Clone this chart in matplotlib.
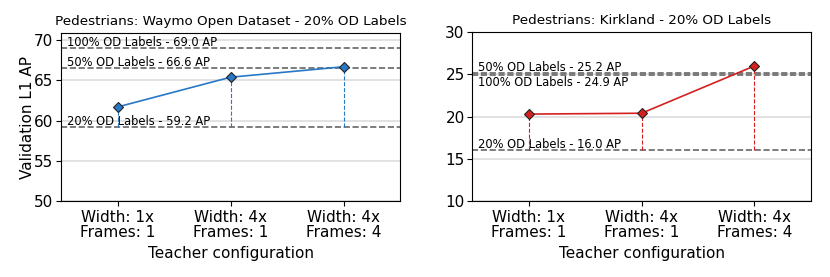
import matplotlib
matplotlib.use("Agg")
import matplotlib.pyplot as plt

# teacher configurations
configs = ["Width: 1x\nFrames: 1", "Width: 4x\nFrames: 1", "Width: 4x\nFrames: 4"]

# Waymo Open Dataset
waymo_ap = [61.7, 65.4, 66.7]
waymo_refs = [59.2, 66.6, 69.0]
waymo_ref_names = ["20% OD Labels", "50% OD Labels", "100% OD Labels"]

# Kirkland
kirk_ap = [20.3, 20.4, 26.0]
kirk_refs = [16.0, 25.2, 24.9]
kirk_ref_names = ["20% OD Labels", "50% OD Labels", "100% OD Labels"]


def draw_panel(ax, values, refs, names, color, title, ylim, yticks, below):
    x = list(range(len(values)))
    ax.grid(axis="y", color="#dddddd", linewidth=1.2, zorder=0)
    ax.set_axisbelow(True)
    for r, n, b in zip(refs, names, below):
        ax.axhline(r, color="#666666", linestyle="--", linewidth=1.2, zorder=2)
        if b:
            ax.text(-0.45, r - 0.1, n + " - %.1f AP" % r, fontsize=8.3,
                    va="top", ha="left", zorder=3)
        else:
            ax.text(-0.45, r + 0.25, n + " - %.1f AP" % r, fontsize=8.3,
                    va="baseline", ha="left", zorder=3)
    for xi, v in zip(x, values):
        ax.plot([xi, xi], [refs[0], v], color=color, linestyle="--",
                linewidth=0.8, zorder=3)
    ax.plot(x, values, color=color, linewidth=1.2, marker="D", markersize=5,
            markerfacecolor=color, markeredgecolor="#222222",
            markeredgewidth=0.8, zorder=4)
    ax.set_xlim(-0.5, 2.5)
    ax.set_ylim(*ylim)
    ax.set_yticks(yticks)
    ax.set_xticks(x)
    ax.set_xticklabels(configs, fontsize=11, linespacing=1.0)
    ax.tick_params(axis="y", labelsize=11, pad=2)
    ax.tick_params(axis="x", pad=3)
    ax.set_xlabel("Teacher configuration", fontsize=11, labelpad=4)
    ax.set_title(title, fontsize=9.7, pad=6)


fig = plt.figure(figsize=(8.3, 2.77), dpi=100)
ax1 = fig.add_axes([0.0735, 0.274, 0.4085, 0.607])
ax2 = fig.add_axes([0.569, 0.274, 0.408, 0.610])

draw_panel(ax1, waymo_ap, waymo_refs, waymo_ref_names, "#2878c8",
           "Pedestrians: Waymo Open Dataset - 20% OD Labels",
           (50, 70.9), [50, 55, 60, 65, 70], [False, False, False])
ax1.set_ylabel("Validation L1 AP", fontsize=11, labelpad=-1)

draw_panel(ax2, kirk_ap, kirk_refs, kirk_ref_names, "#d62020",
           "Pedestrians: Kirkland - 20% OD Labels",
           (10, 30), [10, 15, 20, 25, 30], [False, False, True])

fig.savefig("out.png", dpi=100)
